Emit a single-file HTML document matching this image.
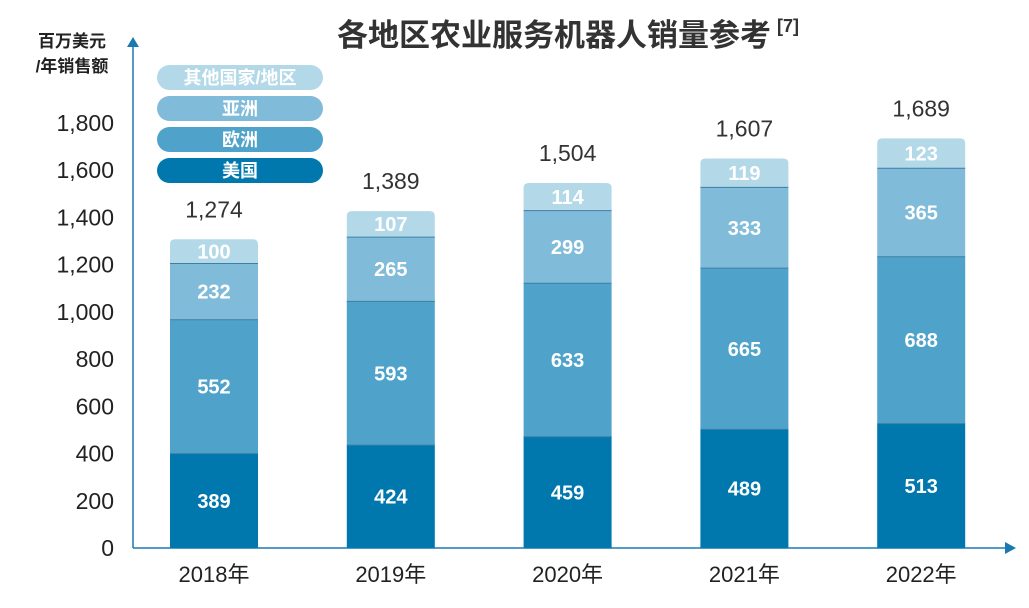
<!DOCTYPE html>
<html><head><meta charset="utf-8"><style>
body{margin:0;background:#fff;}
svg text{font-family:"Liberation Sans","Noto Sans CJK SC",sans-serif;}
</style></head><body>
<svg width="1029" height="603" xmlns="http://www.w3.org/2000/svg" id="chart">
<text x="568" y="46" text-anchor="middle" font-size="31" font-weight="bold" fill="#333">各地区农业服务机器人销量参考<tspan font-size="18" dy="-14" dx="6">[7]</tspan></text>
<text x="72" y="47" text-anchor="middle" font-size="17" font-weight="bold" fill="#222">百万美元</text>
<text x="72" y="72" text-anchor="middle" font-size="17" font-weight="bold" fill="#222">/年销售额</text>
<g id="axes"></g>
<g id="bars"></g>
<g id="legend"></g>
</svg>
<script>
const years=["2018年","2019年","2020年","2021年","2022年"];
const usa=[389,424,459,489,513];
const europe=[552,593,633,665,688];
const asia=[232,265,299,333,365];
const other=[100,107,114,119,123];
const totals=["1,274","1,389","1,504","1,607","1,689"];
const yTicks=[0,200,400,600,800,1000,1200,1400,1600,1800];
const yTickLabels=["0","200","400","600","800","1,000","1,200","1,400","1,600","1,800"];
const seriesNames=["其他国家/地区","亚洲","欧洲","美国"];

const NS="http://www.w3.org/2000/svg";
const y0=548, k=(548-123)/1800, kb=0.2425;
const yS=v=>y0-v*k;
const yB=v=>y0-v*kb;
const xC=i=>214+i*176.8;
const bw=88;
const colors=["#0077ad","#4fa3cb","#80bcda","#b3d9e9"];
function mk(t,a,p){const e=document.createElementNS(NS,t);for(const n in a)e.setAttribute(n,a[n]);p.appendChild(e);return e;}
const ax=document.getElementById('axes');
const yl=mk('line',{x1:133,y1:548,x2:133,y2:45,stroke:'#1a7ab0','stroke-width':1.5},ax);

mk('polygon',{points:'127,47 139,47 133,37',fill:'#1a7ab0'},ax);
const xl=mk('line',{x1:133,y1:548,x2:1008,y2:548,stroke:'#1a7ab0','stroke-width':1.5},ax);

mk('polygon',{points:'1005,542 1005,554 1016,548',fill:'#1a7ab0'},ax);
yTicks.forEach((v,i)=>{const t=mk('text',{x:114,y:yS(v)+8,'text-anchor':'end','font-size':23,fill:'#222'},ax);t.textContent=yTickLabels[i];
});
const bg=document.getElementById('bars');
years.forEach((yr,i)=>{
 const vals=[usa[i],europe[i],asia[i],other[i]];
 let cum=0;const x=xC(i)-bw/2;
 const top=yB(vals.reduce((a,b)=>a+b,0));
 vals.forEach((v,j)=>{
  const yt=yB(cum+v), yb=yB(cum);
  let r;
  if(j===3){const rr=5;r=mk('path',{d:`M${x},${yb}V${yt+rr}Q${x},${yt} ${x+rr},${yt}H${x+bw-rr}Q${x+bw},${yt} ${x+bw},${yt+rr}V${yb}Z`,fill:colors[j]},bg);}
  else r=mk('rect',{x:x,y:yt,width:bw,height:yb-yt,fill:colors[j]},bg);
  
  if(j>0){mk('line',{x1:x,x2:x+bw,y1:yb,y2:yb,stroke:'#3f7fa3','stroke-width':1},bg);}
  const t=mk('text',{x:xC(i),y:(yt+yb)/2+7,'text-anchor':'middle','font-size':20,'font-weight':'bold',fill:'#fff'},bg);t.textContent=v;
  
  cum+=v;
 });
 const tt=mk('text',{x:xC(i),y:top-22,'text-anchor':'middle','font-size':23,fill:'#333'},bg);tt.textContent=totals[i];
 
 const xt=mk('text',{x:xC(i),y:582,'text-anchor':'middle','font-size':22,fill:'#222'},bg);xt.textContent=yr;
 
});
const lg=document.getElementById('legend');
const lc=[colors[3],colors[2],colors[1],colors[0]];
seriesNames.forEach((n,i)=>{
 const yy=65+i*31;
 const r=mk('rect',{x:157,y:yy,width:166,height:25,rx:12.5,fill:lc[i]},lg);
 
 const t=mk('text',{x:240,y:yy+19,'text-anchor':'middle','font-size':18,'font-weight':'bold',fill:'#fff'},lg);t.textContent=n;
 
});
</script>
</body></html>
